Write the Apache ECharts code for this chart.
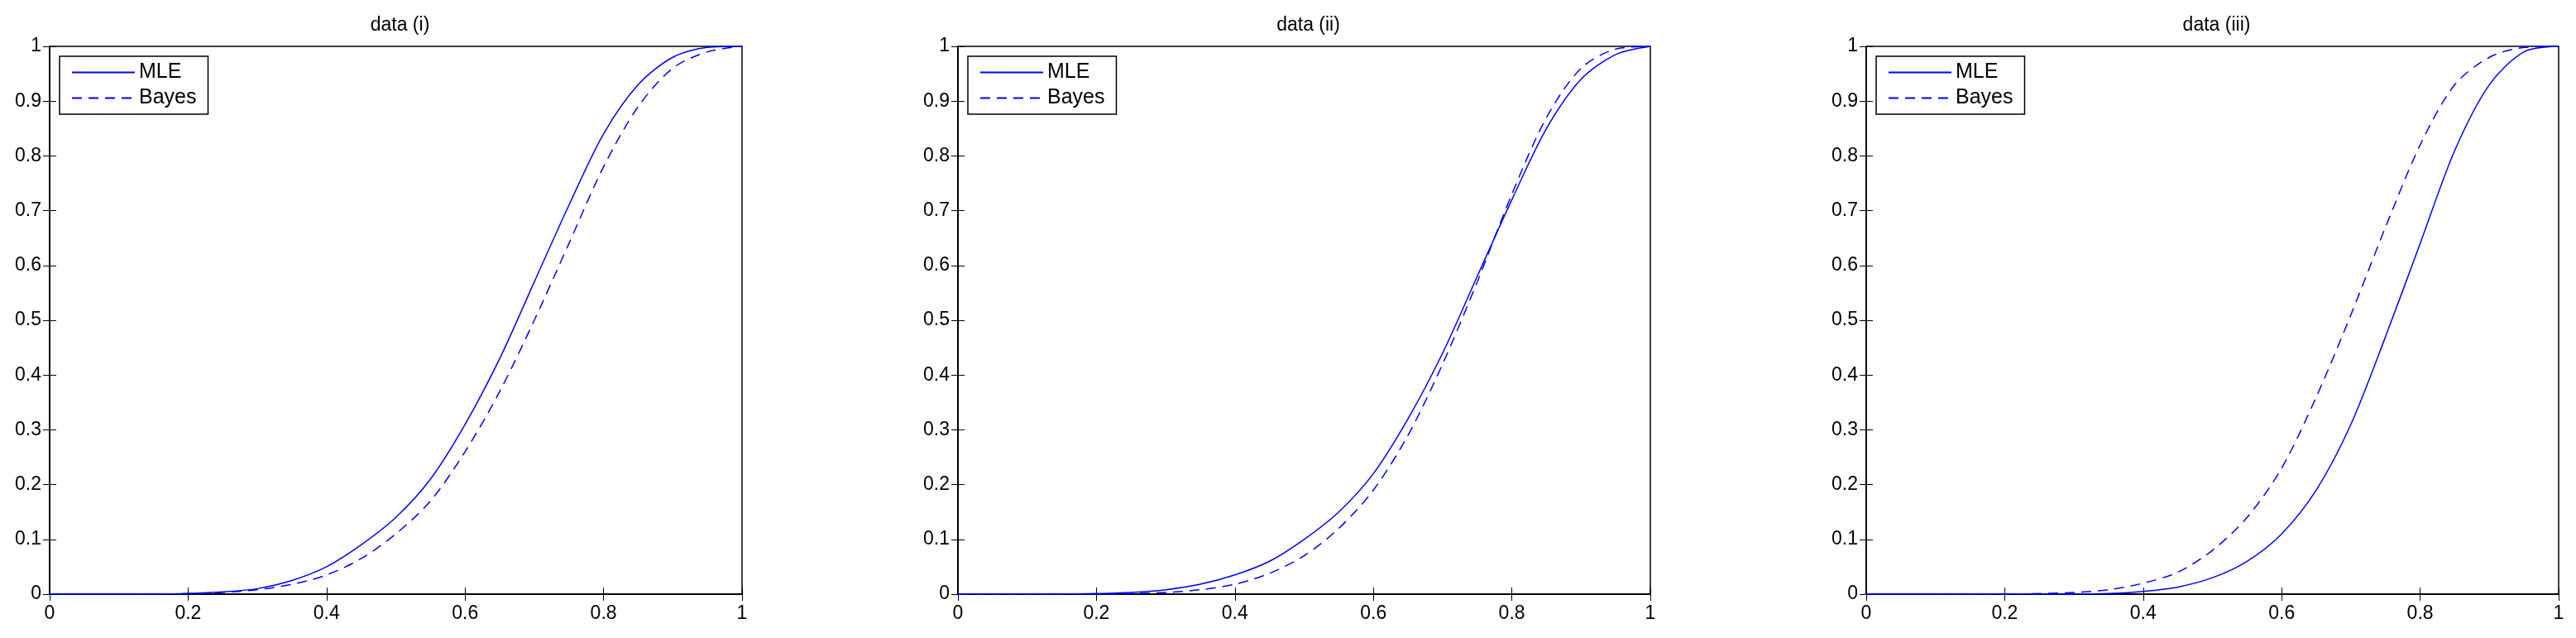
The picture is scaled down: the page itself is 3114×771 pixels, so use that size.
<!DOCTYPE html><html><head><meta charset="utf-8"><script src="https://cdn.jsdelivr.net/npm/echarts@6/dist/echarts.min.js"></script></head><body style="margin:0"><div id="c" style="width:3114px;height:771px"></div><script>
const titles=['data (i)','data (ii)','data (iii)'];
const xs=[0,0.05,0.1,0.15,0.2,0.25,0.3,0.35,0.4,0.45,0.5,0.55,0.6,0.65,0.7,0.75,0.8,0.85,0.9,0.95,1];
const mle1=[0,0,0,0,0.001,0.004,0.01,0.025,0.05,0.09,0.14,0.21,0.31,0.43,0.57,0.71,0.84,0.93,0.98,0.998,1];
const bay1=[0,0,0,0,0.001,0.003,0.008,0.018,0.035,0.065,0.11,0.17,0.26,0.37,0.50,0.64,0.78,0.89,0.96,0.99,1];
const mle2=[0,0,0,0,0.001,0.003,0.008,0.018,0.035,0.06,0.10,0.15,0.22,0.32,0.44,0.58,0.72,0.85,0.94,0.985,1];
const bay2=[0,0,0,0,0,0.001,0.003,0.008,0.018,0.038,0.07,0.12,0.19,0.29,0.42,0.57,0.73,0.87,0.96,0.995,1];
const mle3=[0,0,0,0,0,0,0,0.001,0.005,0.013,0.03,0.06,0.11,0.19,0.31,0.47,0.64,0.81,0.93,0.99,1];
const bay3=[0,0,0,0,0,0.001,0.003,0.008,0.02,0.04,0.08,0.14,0.23,0.36,0.51,0.67,0.82,0.93,0.98,0.998,1];
const mles=[mle1,mle2,mle3], bays=[bay1,bay2,bay3];
const lefts=[60,1158,2256], W=837;
const font='Liberation Sans';
const opt={animation:false,backgroundColor:'#fff',textStyle:{fontFamily:font},title:[],grid:[],xAxis:[],yAxis:[],series:[],legend:[]};
for(let i=0;i<3;i++){
 opt.title.push({text:titles[i],left:lefts[i]+W/2,top:14,textAlign:'center',textStyle:{fontSize:23,fontWeight:'normal',color:'#000',fontFamily:font}});
 opt.grid.push({left:lefts[i],width:W,top:56,bottom:53,show:true,borderColor:'#000',borderWidth:1.5});
 const ax={type:'value',min:0,max:1,interval:0.2,gridIndex:i,splitLine:{show:false},axisLine:{lineStyle:{color:'#000',width:1.5}},axisTick:{inside:true,length:8,lineStyle:{color:'#000'}}};
 opt.xAxis.push({...ax,position:'bottom',axisLabel:{fontSize:23,color:'#000',margin:12,fontFamily:font}});
 opt.xAxis.push({...ax,position:'top',axisLabel:{show:false}});
 const ay={...ax,interval:0.1};
 opt.yAxis.push({...ay,position:'left',axisLabel:{fontSize:23,color:'#000',margin:10,fontFamily:font,formatter:v=>String(+v.toFixed(1))}});
 opt.yAxis.push({...ay,position:'right',axisLabel:{show:false}});
 const mk=(name,d,type)=>({name:name,type:'line',xAxisIndex:2*i,yAxisIndex:2*i,smooth:0.3,symbol:'none',data:xs.map((x,k)=>[x,d[k]]),lineStyle:{color:'#0000ff',width:1.5,type:type},itemStyle:{color:'#0000ff'}});
 opt.series.push(mk('MLE'+'\u200b'.repeat(i),mles[i],'solid'));
 opt.series.push(mk('Bayes'+'\u200b'.repeat(i),bays[i],[12,8]));
 opt.legend.push({data:['MLE'+'\u200b'.repeat(i),'Bayes'+'\u200b'.repeat(i)],orient:'vertical',left:lefts[i]+12,top:68,borderColor:'#000',borderWidth:1.5,padding:[7,14,7,14],itemGap:6,itemWidth:76,itemHeight:14,itemStyle:{opacity:0},backgroundColor:'#fff',textStyle:{fontSize:25,color:'#000',fontFamily:font},formatter:n=>n.replace(/\u200b/g,'')});
}
echarts.init(document.getElementById('c')).setOption(opt);
</script></body></html>
